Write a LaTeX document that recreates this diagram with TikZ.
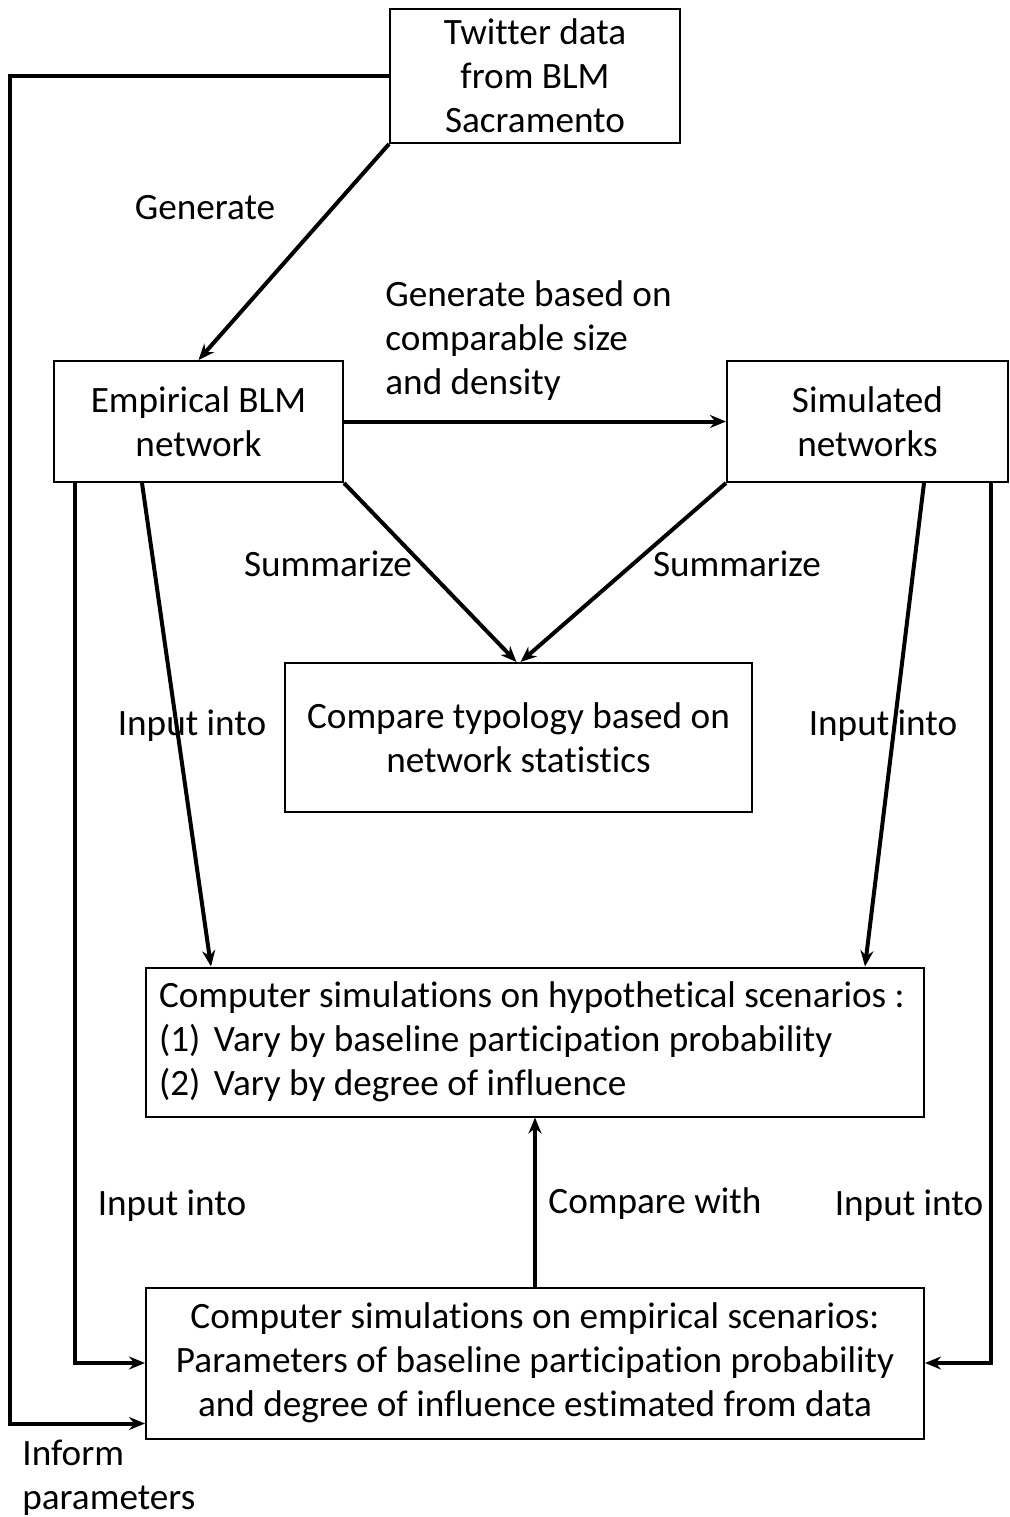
\documentclass[tikz,border=0pt]{standalone}
\usepackage{fontspec}
\setmainfont[Ligatures={NoCommon}]{Carlito}
\usetikzlibrary{arrows.meta,calc}
\begin{document}
\begin{tikzpicture}[x=0.5pt,y=-0.5pt,
  every node/.style={font=\fontsize{18.6}{22}\selectfont, inner sep=0pt},
  box/.style={draw=black, line width=1pt, align=center},
  conn/.style={line width=2pt, -{Stealth[length=8pt,width=6.5pt]}},
  lbl/.style={align=center}]
\useasboundingbox (0,0) rectangle (1010,1517);
% boxes
\node[box, minimum width=145pt, minimum height=67pt] (tw) at (535,76) {Twitter data\\from BLM\\Sacramento};
\node[box, minimum width=144.5pt, minimum height=60.5pt] (emp) at (198.5,421.5) {Empirical BLM\\network};
\node[box, minimum width=140.5pt, minimum height=60.5pt] (sim) at (867.5,421.5) {Simulated\\networks};
\node[box, minimum width=233.5pt, minimum height=74.5pt] (cmp) at (518.5,737.5) {Compare typology based on\\network statistics};
\node[box, minimum width=389pt, minimum height=74.5pt, align=flush left, text width=376pt] (hyp) at (535,1042)
  {Computer simulations on hypothetical scenarios :\\\makebox[27.5pt][l]{(1)}Vary by baseline participation probability\\\makebox[27.5pt][l]{(2)}Vary by degree of influence};
\node[box, minimum width=389pt, minimum height=75.5pt] (esc) at (535,1363)
  {Computer simulations on empirical scenarios:\\Parameters of baseline participation probability\\and degree of influence estimated from data};
% connectors
\draw[conn] (tw.south west) -- (emp.north);
\draw[conn] (emp.east) -- (sim.west);
\draw[conn] (emp.south east) -- ([xshift=-1pt]cmp.north);
\draw[conn] (sim.south west) -- ([xshift=1pt]cmp.north);
\draw[conn] ($(emp.south west)+(89,0)$) -- ($(hyp.north west)+(66,0)$);
\draw[conn] ($(sim.south west)+(198,0)$) -- ($(hyp.north west)+(720,0)$);
\draw[conn] (esc.north) -- (hyp.south);
\draw[conn] ($(emp.south west)+(22,0)$) |- (esc.west);
\draw[conn] ($(sim.south west)+(265,0)$) |- (esc.east);
\coordinate (lft) at (10,76);
\draw[conn] (tw.west) -- (lft) |- ($(esc.south west)+(0,-16)$);
% labels
\node[lbl] (l1) at (205,208) {Generate};
\node[lbl, align=left, anchor=west] (l2) at (385,341) {Generate based on\\comparable size\\and density};
\node[lbl] (l3) at (328,564) {Summarize};
\node[lbl] (l4) at (737,564) {Summarize};
\node[lbl] (l5) at (192,726) {Input into};
\node[lbl] (l6) at (883,726) {Input into};
\node[lbl] (l7) at (172,1206) {Input into};
\node[lbl] (l8) at (655,1204) {Compare with};
\node[lbl] (l9) at (909,1206) {Input into};
\node[lbl, align=left, anchor=west] (l10) at (22,1478) {Inform\\parameters};
\end{tikzpicture}
\end{document}
